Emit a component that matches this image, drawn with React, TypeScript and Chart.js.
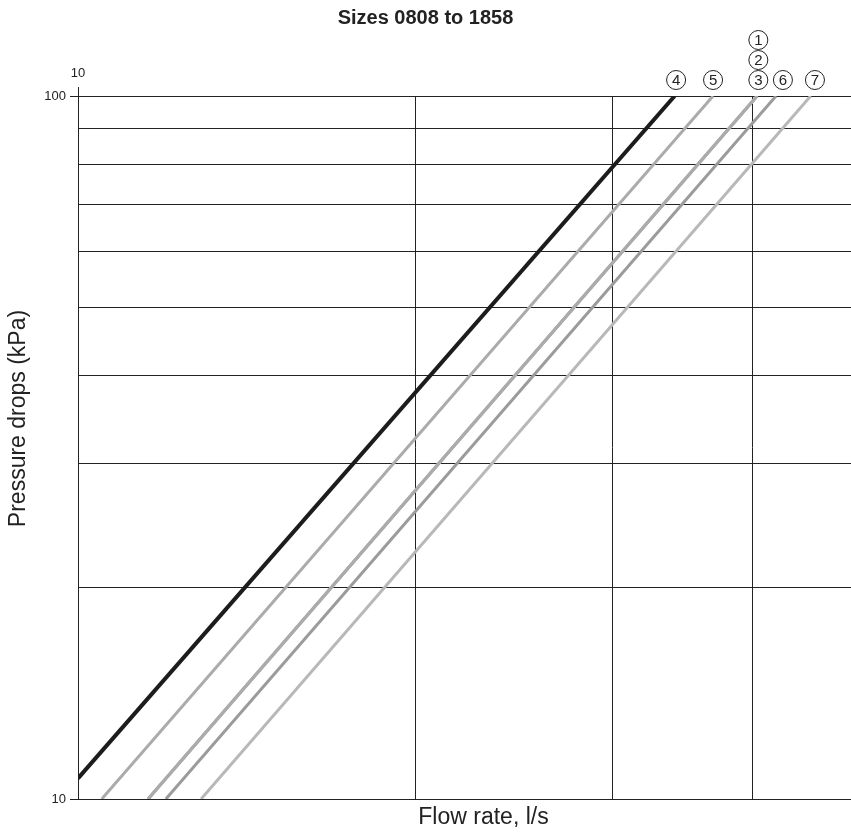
import React, { useEffect, useRef } from "react";
import { Chart, registerables } from "chart.js";

Chart.register(...registerables);

// ---- data (flow rate l/s at the two ends of each curve, pressure drop kPa) ----
const curveNames = ["1", "2", "3", "4", "5", "6", "7"];
const dropEnds = [10, 100];
const drop4Ends = [10.7, 100];
const flow1 = [11.55, 40.4];
const flow2 = [11.55, 40.4];
const flow3 = [11.55, 40.4];
const flow4 = [10.0, 34.1];
const flow5 = [10.5, 36.9];
const flow6 = [11.98, 42.0];
const flow7 = [12.88, 45.1];
const curveColors = ["#ababab", "#ababab", "#ababab", "#1c1c1c", "#ababab", "#9b9b9b", "#b8b8b8"];
const curveWidths = [3, 3, 3, 4, 3, 3, 3];
// label anchors (flow value above which each circled number sits, and stack row)
const labelFlow = [40.5, 40.5, 40.5, 34.2, 36.9, 42.6, 45.5];
const labelRow = [2, 1, 0, 0, 0, 0, 0];

const yTicks = [10, 20, 30, 40, 50, 60, 70, 80, 90, 100];
const yLabelled = [10, 100];
const xTicks = [10, 20, 30, 40];
const xMin = 10;
const xMax = 49;

const titleText = "Sizes 0808 to 1858";
const xTitle = "Flow rate, l/s";
const yTitle = "Pressure drops (kPa)";

const FONT = "'Liberation Sans', Arial, sans-serif";

export default function App() {
  const ref = useRef<HTMLCanvasElement | null>(null);

  useEffect(() => {
    const canvas = ref.current;
    if (!canvas) return;
    const flows = [flow1, flow2, flow3, flow4, flow5, flow6, flow7];
    const datasets = flows.map((f, i) => {
      const drops = curveNames[i] === "4" ? drop4Ends : dropEnds;
      return {
        label: curveNames[i],
        data: f.map((q, k) => ({ x: q, y: drops[k] })),
        borderColor: curveColors[i],
        backgroundColor: curveColors[i],
        borderWidth: curveWidths[i],
        pointRadius: 0,
        fill: false,
        tension: 0,
        xAxisID: "x",
        yAxisID: "y",
      };
    });

    const labelPlugin = {
      id: "circledLabels",
      afterDraw(chart: any) {
        const c = chart.ctx;
        const xs = chart.scales.x;
        const area = chart.chartArea;
        c.save();
        c.font = `15px ${FONT}`;
        c.textAlign = "center";
        c.textBaseline = "middle";
        curveNames.forEach((name, i) => {
          const cx = xs.getPixelForValue(labelFlow[i]);
          const cy = area.top - 16 - labelRow[i] * 20;
          c.beginPath();
          c.arc(cx, cy, 9.5, 0, Math.PI * 2);
          c.lineWidth = 1;
          c.strokeStyle = "#222";
          c.stroke();
          c.fillStyle = "#222";
          c.fillText(name, cx, cy + 1);
        });
        // axis titles
        c.fillStyle = "#222";
        c.font = `23px ${FONT}`;
        c.textAlign = "center";
        c.textBaseline = "middle";
        c.fillText(xTitle, (area.left + area.right) / 2 + 19, area.bottom + 19);
        c.translate(19, (area.top + area.bottom) / 2 - 29);
        c.rotate(-Math.PI / 2);
        c.fillText(yTitle, 0, 0);
        c.restore();
      },
    };

    const chart = new Chart(canvas, {
      type: "line",
      data: { datasets },
      plugins: [labelPlugin],
      options: {
        animation: false,
        responsive: false,
        devicePixelRatio: 1,
        layout: { padding: 0 },
        plugins: {
          legend: { display: false },
          tooltip: { enabled: false },
          title: {
            display: true,
            text: titleText,
            color: "#222",
            font: { family: FONT, size: 20, weight: "bold", lineHeight: 1.2 },
            padding: { top: 6, bottom: 0 },
          },
        },
        scales: {
          x: {
            type: "logarithmic",
            position: "bottom",
            min: xMin,
            max: xMax,
            afterBuildTicks: (s: any) => {
              s.ticks = xTicks.map((v) => ({ value: v }));
            },
            afterFit: (s: any) => {
              s.height = 35;
            },
            ticks: { display: false },
            grid: { color: "#222", lineWidth: 1, drawTicks: false },
            border: { display: true, color: "#222", width: 1 },
          },
          x2: {
            type: "logarithmic",
            position: "top",
            min: xMin,
            max: xMax,
            afterBuildTicks: (s: any) => {
              s.ticks = [{ value: xTicks[0] }];
            },
            afterFit: (s: any) => {
              s.height = 96 - 30;
            },
            ticks: {
              color: "#222",
              font: { family: FONT, size: 13 },
              padding: 6,
              maxRotation: 0,
              callback: (v: any) => String(v),
            },
            grid: { color: "rgba(0,0,0,0)", tickColor: "#222", tickLength: 9, drawOnChartArea: false },
            border: { display: false },
          },
          y: {
            type: "logarithmic",
            position: "left",
            min: yTicks[0],
            max: yTicks[yTicks.length - 1],
            afterBuildTicks: (s: any) => {
              s.ticks = yTicks.map((v) => ({ value: v }));
            },
            afterFit: (s: any) => {
              s.width = 78;
            },
            ticks: {
              color: "#222",
              font: { family: FONT, size: 13 },
              padding: 4,
              autoSkip: false,
              callback: (v: any) => (yLabelled.includes(Number(v)) ? String(v) : ""),
            },
            grid: {
              color: "#222",
              lineWidth: 1,
              tickLength: 8,
              tickColor: (ctx: any) =>
                ctx.tick && yLabelled.includes(ctx.tick.value) ? "#222" : "rgba(0,0,0,0)",
            },
            border: { display: true, color: "#222", width: 1 },
          },
        },
      } as any,
    });
    return () => chart.destroy();
  }, []);

  return (
    <div style={{ position: "fixed", left: 0, top: 0, width: 851, height: 834, background: "#fff" }}>
      <canvas ref={ref} width={851} height={834} />
    </div>
  );
}
